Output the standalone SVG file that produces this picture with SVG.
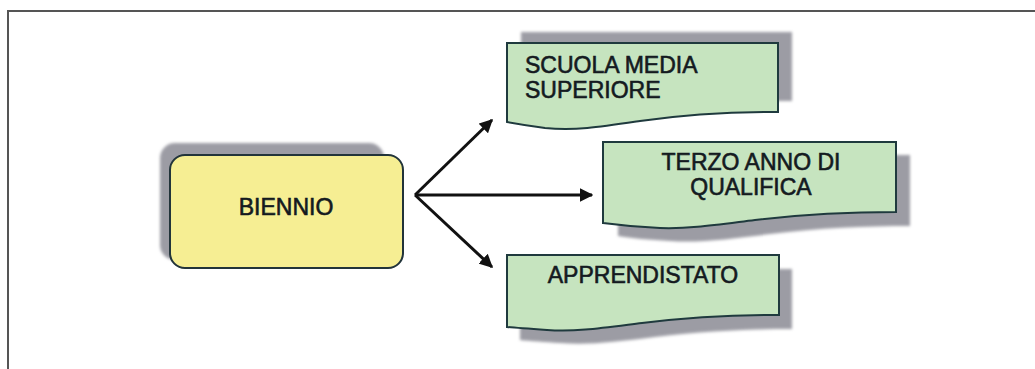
<svg xmlns="http://www.w3.org/2000/svg" width="1035" height="369" viewBox="0 0 1035 369">
  <style>
    .frame { fill: none; stroke: #555555; stroke-width: 2; }
    .shadow { fill: #9c9ca4; filter: url(#soft); }
    .start { fill: #f6ee93; stroke: #22343a; stroke-width: 2; }
    .doc { fill: #c6e4bf; stroke: #1f3a3e; stroke-width: 2; }
    .label { font-family: "Liberation Sans", Arial, sans-serif; font-size: 23px; fill: #141a1f; stroke: #141a1f; stroke-width: 0.6; }
    .mid { text-anchor: middle; }
    .link { fill: none; stroke: #111111; stroke-width: 3; marker-end: url(#head); }
  </style>
  <defs>
    <filter id="soft" x="-10%" y="-20%" width="120%" height="140%">
      <feGaussianBlur stdDeviation="1.5"/>
    </filter>
    <marker id="head" viewBox="0 0 10 10" refX="9" refY="5" markerWidth="4.5" markerHeight="4.5" orient="auto" markerUnits="strokeWidth">
      <path d="M0,0 L10,5 L0,10 Z" fill="#111111"/>
    </marker>
  </defs>

  <rect width="1035" height="369" fill="#ffffff"/>
  <path class="frame" d="M8,369 V11 H1035"/>

  <!-- start node -->
  <g id="biennio">
    <rect class="shadow" x="160" y="143" width="224" height="117" rx="15"/>
    <rect class="start" x="170" y="155" width="233" height="113" rx="15"/>
    <text class="label mid" x="286" y="215">BIENNIO</text>
  </g>

  <!-- outcome nodes (document shapes) -->
  <g id="scuola-media-superiore">
    <path class="shadow" d="M521,32 H792 V101 H521 Z"/>
    <path class="doc" d="M507,43 H778 V112 C735,112 690,114 640,121 C600,127 575,131 545,128 C530,126 518,124 507,122 Z"/>
    <text class="label" x="525" y="73">SCUOLA MEDIA</text>
    <text class="label" x="525" y="98">SUPERIORE</text>
  </g>

  <g id="terzo-anno-qualifica">
    <path class="shadow" d="M618,155 H910 V226 C865,226 820,228 770,234 C730,239 700,243 670,241 C650,240 630,238 618,236 Z"/>
    <path class="doc" d="M603,142 H896 V212 C850,212 805,214 755,220 C715,225 690,229 660,228 C638,227 618,225 603,223 Z"/>
    <text class="label mid" x="751" y="170">TERZO ANNO DI</text>
    <text class="label mid" x="751" y="195">QUALIFICA</text>
  </g>

  <g id="apprendistato">
    <path class="shadow" d="M520,269 H792 V329 C750,329 705,331 655,337 C615,342 590,345 560,343 C545,342 530,341 520,340 Z"/>
    <path class="doc" d="M507,255 H779 V315 C737,315 692,317 642,323 C602,328 577,332 547,330 C532,329 517,328 507,327 Z"/>
    <text class="label mid" x="643" y="283">APPRENDISTATO</text>
  </g>

  <!-- connectors -->
  <g id="connectors">
    <path class="link" d="M415,195 L492,120"/>
    <path class="link" d="M415,195 L592,195"/>
    <path class="link" d="M415,195 L492,267"/>
  </g>
</svg>
